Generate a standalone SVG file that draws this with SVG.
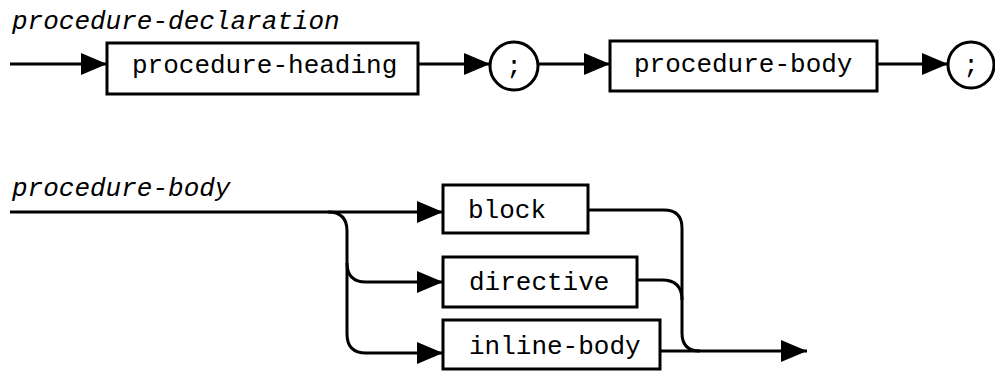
<svg xmlns="http://www.w3.org/2000/svg" width="995" height="371" viewBox="0 0 995 371">
<style>
.box{fill:#fff;stroke:#000;stroke-width:3}
.term{fill:#fff;stroke:#000;stroke-width:3}
.lbl{font-family:"Liberation Mono","Courier New",monospace;font-size:26px;fill:#000}
.title{font-family:"Liberation Mono","Courier New",monospace;font-size:26px;font-style:italic;fill:#000}
.line{fill:none;stroke:#000;stroke-width:3}
</style>
<defs>
<marker id="arr" markerUnits="userSpaceOnUse" markerWidth="28" markerHeight="24" refX="26" refY="11" orient="auto">
<path d="M0,0 L26,11 L0,22 z" fill="#000"/>
</marker>
</defs>
<text class="title" x="12" y="29">procedure-declaration</text>
<text class="title" x="12" y="196">procedure-body</text>
<g id="connectors">
<path class="line" d="M10,64 H107" marker-end="url(#arr)"/>
<path class="line" d="M418,64 H490" marker-end="url(#arr)"/>
<path class="line" d="M538,64 H610" marker-end="url(#arr)"/>
<path class="line" d="M877,64 H948" marker-end="url(#arr)"/>
<path class="line" d="M10,212 H443" marker-end="url(#arr)"/>
<path class="line" d="M328,212 Q347,212 347,231 V334 Q347,353 366,353 H443" marker-end="url(#arr)"/>
<path class="line" d="M347,263 Q347,282 366,282 H443" marker-end="url(#arr)"/>
<path class="line" d="M588,210 H664 Q682,210 682,228 V333 Q682,351 700,351 H807" marker-end="url(#arr)"/>
<path class="line" d="M637,280 H662 Q682,280 682,300"/>
<path class="line" d="M660,351 H700"/>
</g>
<g id="procedure-heading">
<rect class="box" x="107" y="43" width="311" height="51"/>
<text class="lbl" x="132" y="73">procedure-heading</text>
</g>
<g id="semi1">
<circle class="term" cx="514" cy="66" r="24"/>
<text class="lbl" x="514" y="74" text-anchor="middle">;</text>
</g>
<g id="procedure-body">
<rect class="box" x="610" y="41" width="267" height="50"/>
<text class="lbl" x="634" y="72">procedure-body</text>
</g>
<g id="semi2">
<circle class="term" cx="971" cy="65" r="23"/>
<text class="lbl" x="971" y="73" text-anchor="middle">;</text>
</g>
<g id="block">
<rect class="box" x="443" y="185" width="145" height="48"/>
<text class="lbl" x="468" y="218">block</text>
</g>
<g id="directive">
<rect class="box" x="443" y="257" width="194" height="50"/>
<text class="lbl" x="469" y="290">directive</text>
</g>
<g id="inline-body">
<rect class="box" x="443" y="320" width="217" height="49"/>
<text class="lbl" x="469" y="354">inline-body</text>
</g>
</svg>
